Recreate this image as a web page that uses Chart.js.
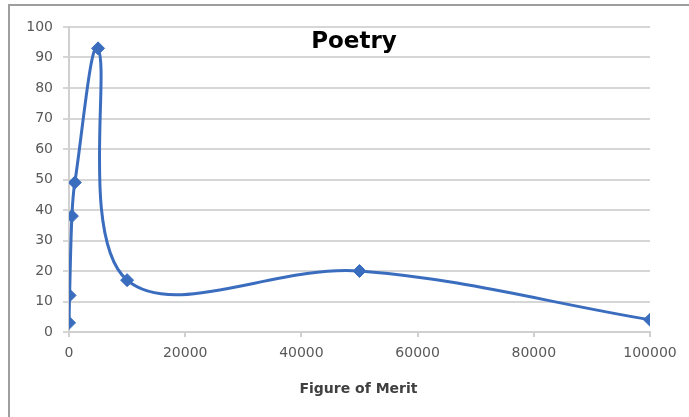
<!DOCTYPE html>
<html>
<head>
<meta charset="utf-8">
<script src="https://cdn.jsdelivr.net/npm/chart.js@4"></script>
<style>
  html, body { margin: 0; padding: 0; background: #fff; }
  #wrap { position: relative; width: 689px; height: 417px; }
</style>
</head>
<body>
<div id="wrap"><canvas id="poetry-chart" width="689" height="417"></canvas></div>
<script>
// Dados
const meritValues = [10, 100, 500, 1000, 5000, 10000, 50000, 100000];
const poetryValues = [3, 12, 38, 49, 93, 17, 20, 4];
const xTicks = [0, 20000, 40000, 60000, 80000, 100000];
const yTicks = [0, 10, 20, 30, 40, 50, 60, 70, 80, 90, 100];

const points = meritValues.map((x, i) => ({ x: x, y: poetryValues[i] }));

// moldura e títulos no estilo do Excel
const decorPlugin = {
    id: 'decor',
    beforeDraw(chart) {
        const ctx = chart.ctx;
        ctx.save();
        ctx.fillStyle = '#ffffff';
        ctx.fillRect(0, 0, chart.width, chart.height);
        ctx.strokeStyle = '#9e9e9e';
        ctx.lineWidth = 2;
        ctx.beginPath();
        ctx.moveTo(9, chart.height);
        ctx.lineTo(9, 5);
        ctx.lineTo(chart.width, 5);
        ctx.stroke();
        ctx.restore();
    },
    afterDraw(chart) {
        const ctx = chart.ctx;
        const area = chart.chartArea;
        ctx.save();
        ctx.fillStyle = '#000000';
        ctx.textAlign = 'center';
        ctx.textBaseline = 'alphabetic';
        ctx.font = 'bold 23px "DejaVu Sans"';
        ctx.fillText('Poetry', 354, 48);
        ctx.fillStyle = '#404040';
        ctx.font = 'bold 14px "DejaVu Sans"';
        ctx.fillText('Figure of Merit', (area.left + area.right) / 2 - 1, 393);
        ctx.restore();
    }
};

const config = {
    type: 'scatter',
    data: {
        datasets: [{
            label: 'Poetry',
            data: points,
            showLine: true,
            tension: 0.36,
            borderColor: '#3b6dbf',
            borderWidth: 3,
            pointStyle: 'rectRot',
            pointRadius: 6.5,
            pointBackgroundColor: '#3b6dbf',
            pointBorderColor: '#3b6dbf',
            pointBorderWidth: 1
        }]
    },
    options: {
        responsive: false,
        animation: false,
        layout: { padding: { left: 0, top: 27, right: 39, bottom: 0 } },
        plugins: {
            legend: { display: false },
            tooltip: { enabled: false }
        },
        scales: {
            x: {
                type: 'linear',
                min: 0,
                max: 100000,
                afterFit(scale) { scale.height = 85; },
                afterBuildTicks(scale) { scale.ticks = xTicks.map(v => ({ value: v })); },
                border: { display: true, color: '#d0d0d0', width: 2 },
                grid: { drawOnChartArea: false, drawTicks: true, tickLength: 5, color: '#d0d0d0', lineWidth: 2 },
                ticks: {
                    padding: 8,
                    maxRotation: 0,
                    color: '#595959',
                    font: { family: '"DejaVu Sans"', size: 14 },
                    callback: v => String(v)
                }
            },
            y: {
                min: 0,
                max: 100,
                afterFit(scale) { scale.width = 69; },
                afterBuildTicks(scale) { scale.ticks = yTicks.map(v => ({ value: v })); },
                border: { display: true, color: '#d0d0d0', width: 2 },
                grid: { drawTicks: true, tickLength: 6, color: '#d6d6d6', lineWidth: 2 },
                ticks: {
                    padding: 10,
                    color: '#595959',
                    font: { family: '"DejaVu Sans"', size: 14 }
                }
            }
        }
    },
    plugins: [decorPlugin]
};

new Chart(document.getElementById('poetry-chart'), config);
</script>
</body>
</html>
